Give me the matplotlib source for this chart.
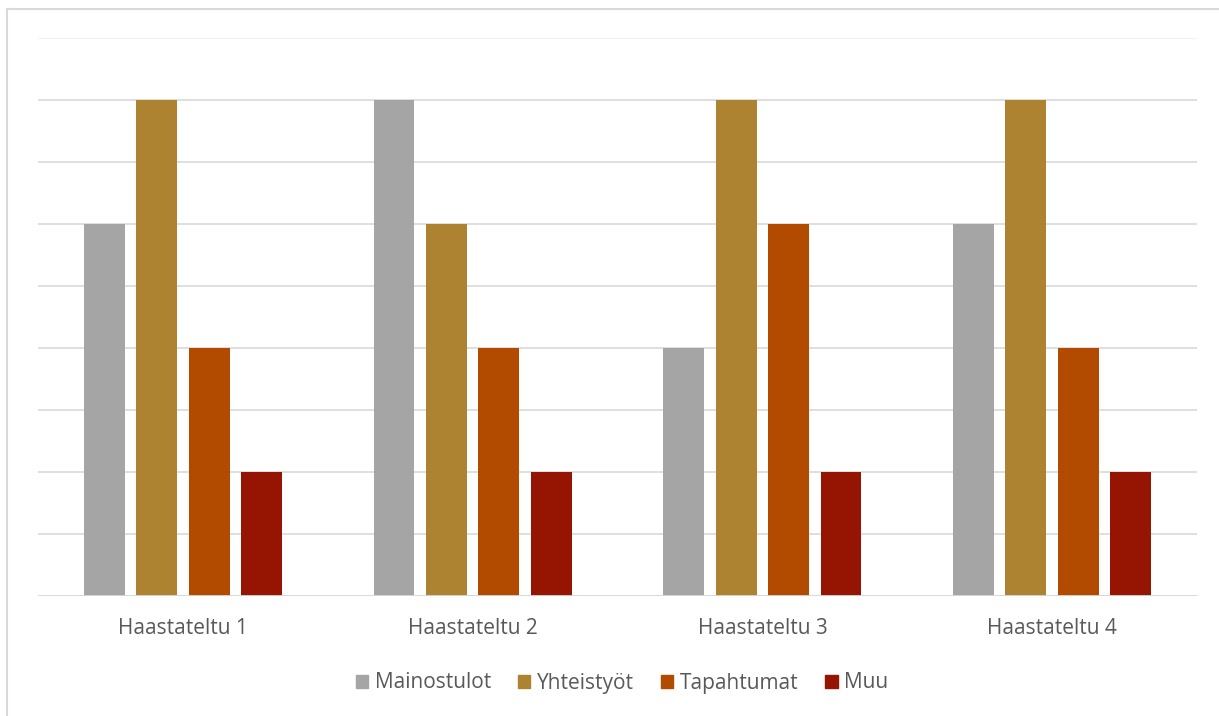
import numpy as np
import matplotlib
matplotlib.use('Agg')
import matplotlib.pyplot as plt
from matplotlib.patches import Patch

categories = ['Haastateltu 1', 'Haastateltu 2', 'Haastateltu 3', 'Haastateltu 4']
series_names = ['Mainostulot', 'Yhteistyöt', 'Tapahtumat', 'Muu']
mainostulot = [6, 8, 4, 6]
yhteistyot = [8, 6, 8, 8]
tapahtumat = [4, 4, 6, 4]
muu = [2, 2, 2, 2]
colors = ['#A5A5A5', '#AD8230', '#B24A00', '#961402']

plt.rcParams['font.family'] = ['Open Sans', 'DejaVu Sans']

fig = plt.figure(figsize=(12.19, 7.16), dpi=100)
ax = fig.add_axes([38 / 1219, 1 - 596 / 716, 1159 / 1219, 558 / 716])

x = np.arange(len(categories))
width = 0.141
step = 0.181
series = [mainostulot, yhteistyot, tapahtumat, muu]
for i, vals in enumerate(series):
    ax.bar(x + (i - 1.5) * step, vals, width, color=colors[i], zorder=3)

ax.set_xlim(-0.5, 3.5)
ax.set_ylim(0, 9)
ax.set_yticks(range(0, 9))
ax.yaxis.grid(True, color='#D9D9D9', linewidth=1.2, zorder=0)
ax.axhline(9, color='#F0F0F0', linewidth=1.2, zorder=0)
ax.axhline(0, color='#D9D9D9', linewidth=2, zorder=4)
ax.tick_params(axis='y', left=False, labelleft=False)
ax.tick_params(axis='x', bottom=False, pad=12, labelsize=15, labelcolor='#595959')
ax.set_xticks(x)
ax.set_xticklabels(categories)
for s in ax.spines.values():
    s.set_visible(False)

handles = [Patch(color=c, label=n) for c, n in zip(colors, series_names)]
fig.legend(handles=handles, loc='center', bbox_to_anchor=(622 / 1219, 1 - 683 / 716),
           ncol=4, frameon=False, fontsize=15, labelcolor='#595959',
           handlelength=0.6, handleheight=0.6, handletextpad=0.3, columnspacing=1.3)

# chart area border (only top and left edges visible)
fig.add_artist(plt.Line2D([7 / 1219, 1], [1 - 9 / 716] * 2, transform=fig.transFigure,
                          color='#D9D9D9', linewidth=1.5))
fig.add_artist(plt.Line2D([7 / 1219] * 2, [0, 1 - 9 / 716], transform=fig.transFigure,
                          color='#D9D9D9', linewidth=1.5))

fig.savefig('out.png', dpi=100)
